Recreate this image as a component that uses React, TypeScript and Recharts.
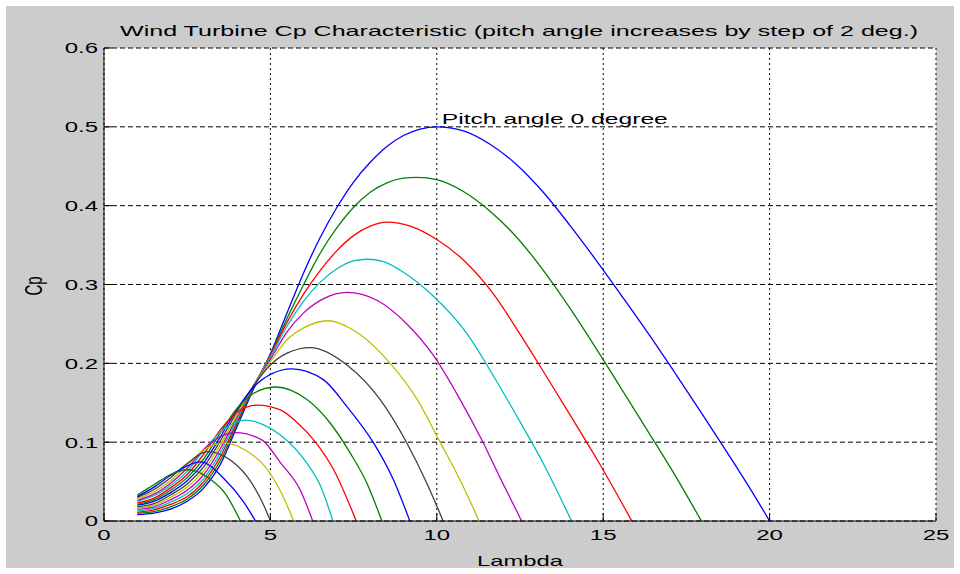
import React from 'react'
import { LineChart, Line, XAxis, YAxis, CartesianGrid, ReferenceDot } from 'recharts'

// pitch angle of each curve, deg
const pitchAngles = [0, 2, 4, 6, 8, 10, 12, 14, 16, 18, 20, 22, 24, 26, 28, 30]
const lambdaTicks = [0, 5, 10, 15, 20, 25]
const cpTicks = [0, 0.1, 0.2, 0.3, 0.4, 0.5, 0.6]

// [lambda, Cp]
const cpPitch0 = [[1, 0.008], [1.5, 0.01], [2, 0.015], [2.5, 0.025], [3, 0.042], [3.5, 0.072], [4, 0.12], [4.5, 0.168], [5, 0.212], [5.5, 0.264], [6, 0.315], [6.5, 0.36], [7, 0.398], [7.5, 0.43], [8, 0.455], [8.5, 0.475], [9, 0.489], [9.5, 0.497], [10, 0.5], [10.8, 0.495], [11.6, 0.478], [12.4, 0.452], [13.2, 0.417], [14, 0.375], [14.8, 0.33], [15.6, 0.283], [16.4, 0.235], [17.2, 0.185], [18, 0.134], [18.8, 0.082], [19.4, 0.042], [20, 0]]
const cpPitch2 = [[1, 0.01], [1.5, 0.012], [2, 0.018], [2.5, 0.028], [3, 0.046], [3.5, 0.077], [4, 0.123], [4.5, 0.17], [5, 0.211], [5.5, 0.257], [6, 0.3], [6.5, 0.34], [7, 0.372], [7.5, 0.398], [8, 0.417], [8.5, 0.429], [9, 0.435], [9.4, 0.436], [10, 0.433], [10.8, 0.418], [11.6, 0.393], [12.4, 0.36], [13.2, 0.318], [14, 0.27], [14.8, 0.218], [15.6, 0.164], [16.4, 0.11], [17.2, 0.055], [17.95, 0]]
const cpPitch4 = [[1, 0.011], [1.5, 0.014], [2, 0.021], [2.5, 0.031], [3, 0.05], [3.5, 0.082], [4, 0.126], [4.5, 0.171], [5, 0.21], [5.5, 0.252], [6, 0.288], [6.5, 0.318], [7, 0.343], [7.5, 0.362], [8, 0.374], [8.5, 0.379], [9.2, 0.374], [10, 0.357], [10.8, 0.331], [11.7, 0.288], [12.5, 0.237], [13.3, 0.183], [14.1, 0.128], [14.9, 0.072], [15.86, 0]]
const cpPitch6 = [[1, 0.013], [1.5, 0.016], [2, 0.024], [2.5, 0.035], [3, 0.054], [3.5, 0.087], [4, 0.129], [4.5, 0.172], [5, 0.208], [5.5, 0.247], [6, 0.279], [6.5, 0.303], [7, 0.32], [7.5, 0.33], [7.9, 0.332], [8.4, 0.329], [8.9, 0.318], [9.9, 0.285], [10.9, 0.238], [11.8, 0.177], [12.5, 0.126], [13.2, 0.073], [14.05, 0]]
const cpPitch8 = [[1, 0.015], [1.5, 0.018], [2, 0.027], [2.5, 0.039], [3, 0.059], [3.5, 0.092], [4, 0.132], [4.5, 0.172], [5, 0.205], [5.5, 0.24], [6, 0.264], [6.6, 0.282], [7.3, 0.29], [8.2, 0.28], [9.1, 0.25], [9.9, 0.21], [10.7, 0.154], [11.35, 0.103], [11.9, 0.055], [12.55, 0]]
const cpPitch10 = [[1, 0.016], [1.5, 0.02], [2, 0.03], [2.5, 0.043], [3, 0.064], [3.5, 0.097], [4, 0.135], [4.5, 0.172], [5, 0.202], [5.5, 0.23], [6, 0.245], [6.74, 0.254], [7.5, 0.242], [8.6, 0.2], [9.4, 0.155], [10.1, 0.1], [10.7, 0.052], [11.27, 0]]
const cpPitch12 = [[1, 0.018], [1.5, 0.022], [2, 0.033], [2.5, 0.047], [3, 0.069], [3.5, 0.102], [4, 0.139], [4.5, 0.172], [5, 0.198], [5.5, 0.213], [6.2, 0.22], [7.3, 0.198], [8.3, 0.154], [9.1, 0.099], [9.7, 0.048], [10.19, 0]]
const cpPitch14 = [[1, 0.02], [1.5, 0.025], [2, 0.036], [2.5, 0.051], [3, 0.074], [3.5, 0.107], [4, 0.142], [4.5, 0.17], [5, 0.186], [5.64, 0.193], [6.6, 0.179], [7.3, 0.145], [8.1, 0.099], [8.7, 0.052], [9.19, 0]]
const cpPitch16 = [[1, 0.021], [1.5, 0.027], [2, 0.039], [2.5, 0.055], [3, 0.079], [3.5, 0.112], [4, 0.143], [4.5, 0.162], [5.15, 0.17], [6.1, 0.154], [6.8, 0.124], [7.4, 0.086], [7.9, 0.048], [8.35, 0]]
const cpPitch18 = [[1, 0.023], [1.5, 0.029], [2, 0.042], [2.5, 0.059], [3, 0.085], [3.5, 0.116], [4, 0.138], [4.6, 0.147], [5.3, 0.141], [5.8, 0.125], [6.3, 0.103], [6.9, 0.065], [7.58, 0]]
const cpPitch20 = [[1, 0.025], [1.5, 0.032], [2, 0.045], [2.5, 0.063], [3, 0.09], [3.5, 0.113], [4.24, 0.128], [4.8, 0.122], [5.3, 0.109], [6.1, 0.073], [6.5, 0.045], [6.88, 0]]
const cpPitch22 = [[1, 0.026], [1.5, 0.034], [2, 0.048], [2.5, 0.067], [3, 0.091], [3.5, 0.107], [3.94, 0.112], [4.74, 0.103], [5.3, 0.074], [5.9, 0.039], [6.27, 0]]
const cpPitch24 = [[1, 0.028], [1.5, 0.037], [2, 0.051], [2.5, 0.071], [3, 0.09], [3.6, 0.099], [4.24, 0.09], [4.84, 0.069], [5.29, 0.039], [5.7, 0]]
const cpPitch26 = [[1, 0.03], [1.5, 0.04], [2, 0.055], [2.5, 0.073], [3.1, 0.088], [3.84, 0.076], [4.44, 0.048], [4.8, 0.02], [5, 0]]
const cpPitch28 = [[1, 0.031], [1.5, 0.043], [2, 0.058], [2.5, 0.07], [2.9, 0.075], [3.6, 0.054], [4.2, 0.024], [4.55, 0]]
const cpPitch30 = [[1, 0.033], [1.5, 0.046], [2, 0.059], [2.5, 0.065], [3.2, 0.053], [3.64, 0.035], [4.1, 0]]

// matlab default line colour order
const curveColors = ['#0000ff', '#008000', '#ff0000', '#00bfbf', '#bf00bf', '#bfbf00', '#404040']

const curves = [cpPitch0, cpPitch2, cpPitch4, cpPitch6, cpPitch8, cpPitch10, cpPitch12, cpPitch14, cpPitch16, cpPitch18, cpPitch20, cpPitch22, cpPitch24, cpPitch26, cpPitch28, cpPitch30]

const series = pitchAngles.map((pitch, i) => ({
    pitch,
    color: curveColors[i % curveColors.length],
    data: curves[i].map(([lambda, cp]) => ({ lambda, cp })),
}))

const FONT = 'Arial, "Liberation Sans", Helvetica, sans-serif'
const STRETCH = 1.6

const XTick = (props: any) => {
    const { x, y, payload } = props
    return (
        <g transform={`translate(${x},${y})`}>
            <text transform={`scale(${STRETCH},1)`} textAnchor='middle' dy='0.72em' fontSize={15} fontFamily={FONT} fill='#000'>{payload.value}</text>
        </g>
    )
}

const YTick = (props: any) => {
    const { x, y, payload } = props
    return (
        <g transform={`translate(${x},${y})`}>
            <text transform={`scale(${STRETCH},1)`} textAnchor='end' dy='0.36em' fontSize={15} fontFamily={FONT} fill='#000'>{payload.value}</text>
        </g>
    )
}

const PitchLabel = (props: any) => {
    const { viewBox } = props
    return (
        <text x={viewBox.x + 5} y={viewBox.y} dy='0.36em' fontSize={15} fontFamily={FONT} fill='#000' textLength={226} lengthAdjust='spacingAndGlyphs'>Pitch angle 0 degree</text>
    )
}

export default function App() {
    return (
        <div style={{ position: 'absolute', left: 0, top: 0, width: 960, height: 574, background: '#fff' }}>
            <div style={{ position: 'absolute', left: 6, top: 6, width: 948, height: 562, background: '#cccccc' }}/>
            <div style={{ position: 'absolute', left: 0, top: 0 }}>
                <LineChart width={960} height={574} margin={{ top: 48, right: 24, bottom: 13, left: 44 }}>
                    <CartesianGrid horizontal vertical={false} stroke='#000' strokeDasharray='5 3' fill='#fff' fillOpacity={1}/>
                    <CartesianGrid horizontal={false} vertical stroke='#000' strokeDasharray='2 3'/>
                    <XAxis dataKey='lambda' type='number' domain={[0, 25]} ticks={lambdaTicks} allowDataOverflow
                        height={40} tick={<XTick/>} tickSize={-8} tickMargin={16}
                        axisLine={{ stroke: '#000' }} tickLine={{ stroke: '#000' }}/>
                    <YAxis dataKey='cp' type='number' domain={[0, 0.6]} ticks={cpTicks} allowDataOverflow
                        width={60} tick={<YTick/>} tickSize={-8} tickMargin={14}
                        axisLine={{ stroke: '#000' }} tickLine={{ stroke: '#000' }}/>
                    {series.map(s => (
                        <Line key={s.pitch} name={`Pitch ${s.pitch} deg`} data={s.data} dataKey='cp' type='monotone'
                            stroke={s.color} strokeWidth={1.3} dot={false} activeDot={false} isAnimationActive={false}/>
                    ))}
                    <ReferenceDot x={10} y={0.51} r={0} fill='none' stroke='none' label={<PitchLabel/>}/>
                </LineChart>
            </div>
            <svg width={960} height={574} style={{ position: 'absolute', left: 0, top: 0, pointerEvents: 'none' }}>
                <text x={120} y={36} fontSize={15} fontFamily={FONT} fill='#000' textLength={798} lengthAdjust='spacingAndGlyphs'>
                    Wind Turbine Cp Characteristic (pitch angle increases by step of 2 deg.)
                </text>
                <text x={477} y={566} fontSize={15} fontFamily={FONT} fill='#000' textLength={86} lengthAdjust='spacingAndGlyphs'>Lambda</text>
                <text transform='translate(42,286) scale(1.6,1) rotate(-90)' textAnchor='middle' fontSize={15} fontFamily={FONT} fill='#000'>Cp</text>
            </svg>
        </div>
    )
}
